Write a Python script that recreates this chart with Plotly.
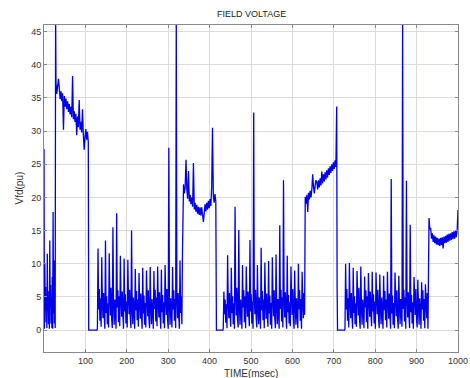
import numpy as np
import plotly.graph_objects as go

# ---- data (time in msec, Vfd in pu) ----
# each segment: start time, sample interval, values
burst_a_start, burst_a_step = 0.0, 1.0
burst_a = [27.3, 0.2, 10.1, 3.0, 6.5, 1.2, 5.0, 0.3, 11.5, 2.8, 5.9, 0.9, 4.4, 0.2,
           13.5, 3.5, 6.8, 1.0, 4.9, 0.3, 8.0, 0.2, 17.8, 2.5, 10.5, 1.0, 6.2, 0.3]

spike_a_t = [28.0]
spike_a_v = [48.0]

ramp_a_start, ramp_a_step = 29.0, 2.0
ramp_a = [37.2, 35.6, 36.8, 37.9, 36.4, 34.8, 36.0, 34.5, 35.7, 30.2,
          35.3, 33.7, 34.9, 33.3, 34.5, 32.9, 34.1, 32.5, 33.7, 32.1,
          38.3, 31.8, 33.0, 31.4, 32.6, 29.4, 32.2, 30.6, 34.7, 30.2,
          31.4, 29.8, 33.3, 29.5, 27.2, 29.1, 30.3, 28.7, 29.9, 28.3]

gap_1_t = [108.0, 128.0]
gap_1_v = [0.0, 0.0]

burst_b_start, burst_b_step = 129.0, 1.5
burst_b = [0.3, 12.3, 3.1, 6.2, 1.4, 4.8,   0.5, 11.0, 4.5, 1.8, 5.6, 2.3,
           0.2, 13.5, 2.6, 5.1, 0.9, 4.0,   0.4, 11.6, 5.3, 2.2, 6.4, 1.6,
           0.3, 15.5, 3.8, 0.8, 4.6, 2.9,   0.2, 17.6, 3.4, 6.0, 1.2, 5.1,
           0.6, 11.2, 4.9, 2.0, 5.8, 2.5,   0.2, 10.8, 2.8, 5.4, 1.0, 4.3,
           0.4, 10.6, 5.0, 2.4, 6.1, 1.8,   0.3, 15.0, 3.6, 0.9, 4.9, 2.7,
           0.2, 9.2, 3.0, 5.9, 1.5, 4.6,    0.5, 8.6, 4.4, 1.7, 5.5, 2.2,
           0.2, 9.4, 2.5, 5.2, 0.8, 4.1,    0.4, 9.0, 5.1, 2.1, 6.0, 1.7,
           0.3, 9.5, 3.7, 0.9, 4.7, 2.8,    0.2, 8.9, 3.2, 6.1, 1.3, 4.9,
           0.6, 9.6, 4.6, 1.9, 5.7, 2.4,    0.2, 9.1, 2.7, 5.3, 1.0, 4.2,
           0.3, 9.8, 5.2, 2.3, 6.2, 1.6,    0.2, 27.5, 3.9, 0.8, 4.8, 2.9,
           0.4, 9.5, 3.1, 6.0, 1.4, 4.7,    0.3, 47.0, 4.5, 1.8, 5.6, 2.3,
           0.2, 10.5, 2.6, 5.1, 0.9, 11.8]

ramp_b_start, ramp_b_step = 337.0, 2.0
ramp_b = [22.0, 20.6, 21.6, 25.7, 21.2, 19.8, 24.0, 19.4, 20.4, 19.0,
          20.0, 18.6, 25.2, 18.2, 19.2, 17.85, 18.9, 17.55, 18.6, 17.35,
          18.5, 17.25, 18.5, 17.4, 16.3, 17.6, 18.95, 17.9, 19.2, 18.15,
          19.5, 18.4, 19.75, 18.7, 21.5, 30.5, 20.3, 19.2, 20.5, 19.4]

gap_2_t = [416.5, 432.0]
gap_2_v = [0.0, 0.0]

burst_c_start, burst_c_step = 433.0, 1.5
burst_c = [0.2, 5.8, 2.4, 4.6, 1.1, 3.9,    0.3, 11.3, 4.5, 1.8, 5.6, 2.3,
           0.5, 9.4, 2.6, 5.1, 0.9, 4.0,    0.2, 18.6, 5.3, 2.2, 6.4, 1.6,
           0.4, 15.1, 3.8, 0.8, 4.6, 2.9,   0.2, 9.8, 3.4, 6.0, 1.2, 5.1,
           0.3, 9.6, 4.9, 2.0, 5.8, 2.5,    0.6, 13.6, 2.8, 5.4, 1.0, 4.3,
           0.2, 32.8, 5.0, 2.4, 6.1, 1.8,   0.4, 9.8, 3.6, 0.9, 4.9, 2.7,
           0.2, 12.4, 3.0, 5.9, 1.5, 4.6,   0.3, 10.2, 4.4, 1.7, 5.5, 2.2,
           0.5, 10.4, 2.5, 5.2, 0.8, 4.1,   0.2, 11.0, 5.1, 2.1, 6.0, 1.7,
           0.3, 11.4, 3.7, 0.9, 4.7, 2.8,   0.2, 15.8, 3.2, 6.1, 1.3, 4.9,
           0.4, 22.6, 4.6, 1.9, 5.7, 2.4,   0.2, 11.2, 2.7, 5.3, 1.0, 4.2,
           0.6, 9.6, 5.2, 2.3, 6.2, 1.6,    0.2, 9.0, 3.9, 0.8, 4.8, 2.9,
           0.3, 10.0, 3.1, 6.0, 1.4, 4.7,   0.2, 8.8, 4.5, 1.8, 5.6, 2.3]

ramp_c_start, ramp_c_step = 631.0, 2.0
ramp_c = [20.1, 19.05, 20.4, 17.8, 20.7, 19.7, 21.0, 20.0, 21.3, 23.5,
          21.6, 20.6, 21.9, 22.6, 22.3, 21.2, 22.6, 21.5, 22.9, 21.8,
          23.9, 22.1, 23.5, 22.4, 23.8, 22.7, 24.1, 23.0, 24.4, 23.4,
          24.7, 23.7, 25.0, 24.0, 25.3, 24.3, 25.6, 24.6, 33.7]

gap_3_t = [708.0, 709.0, 726.0]
gap_3_v = [6.4, 0.0, 0.0]

burst_d_start, burst_d_step = 727.0, 1.53
burst_d = [0.2, 10.0, 3.1, 6.2, 1.4, 4.8,   0.4, 10.1, 4.5, 1.8, 5.6, 2.3,
           0.2, 9.4, 2.6, 5.1, 0.9, 4.0,    0.5, 8.9, 5.3, 2.2, 6.4, 1.6,
           0.2, 9.6, 3.8, 0.8, 4.6, 2.9,    0.3, 8.1, 3.4, 6.0, 1.2, 5.1,
           0.2, 8.6, 4.9, 2.0, 5.8, 2.5,    0.6, 8.8, 2.8, 5.4, 1.0, 4.3,
           0.2, 8.7, 5.0, 2.4, 6.1, 1.8,    0.3, 8.4, 3.6, 0.9, 4.9, 2.7,
           0.2, 8.2, 3.0, 5.9, 1.5, 4.6,    0.4, 8.8, 4.4, 1.7, 5.5, 2.2,
           0.2, 22.8, 2.5, 5.2, 0.8, 4.1,   0.3, 8.7, 5.1, 2.1, 6.0, 1.7,
           0.2, 8.2, 3.7, 0.9, 4.7, 2.8,    0.5, 47.0, 3.2, 6.1, 1.3, 4.9,
           0.2, 22.5, 4.6, 1.9, 5.7, 2.4,   0.3, 15.9, 2.7, 5.3, 1.0, 4.2,
           0.2, 8.0, 5.2, 2.3, 6.2, 1.6,    0.4, 7.6, 3.9, 0.8, 4.8, 2.9,
           0.2, 7.2, 3.1, 6.0, 1.4, 4.7,    0.3, 6.9, 4.5, 1.8, 5.6, 0.2]

ramp_d_start, ramp_d_step = 930.0, 2.0
ramp_d = [16.9, 15.2, 15.4, 13.8, 14.6, 13.3, 14.3, 13.1, 14.1, 12.9,
          13.9, 12.8, 13.8, 12.7, 13.9, 12.8, 14.0, 12.3, 14.1, 13.1,
          14.2, 13.2, 14.4, 13.3, 14.5, 13.5, 14.6, 13.6, 14.8, 13.7,
          14.9, 13.8, 15.0, 14.0, 15.1, 18.1]

x_ticks = [100, 200, 300, 400, 500, 600, 700, 800, 900, 1000]
y_ticks = [0, 5, 10, 15, 20, 25, 30, 35, 40, 45]


def seg(start, step, vals):
    return list(start + step * np.arange(len(vals))), list(vals)


pieces = [
    seg(burst_a_start, burst_a_step, burst_a),
    (spike_a_t, spike_a_v),
    seg(ramp_a_start, ramp_a_step, ramp_a),
    (gap_1_t, gap_1_v),
    seg(burst_b_start, burst_b_step, burst_b),
    seg(ramp_b_start, ramp_b_step, ramp_b),
    (gap_2_t, gap_2_v),
    seg(burst_c_start, burst_c_step, burst_c),
    seg(ramp_c_start, ramp_c_step, ramp_c),
    (gap_3_t, gap_3_v),
    seg(burst_d_start, burst_d_step, burst_d),
    seg(ramp_d_start, ramp_d_step, ramp_d),
]
t_all, v_all = [], []
for tt, vv in pieces:
    t_all += list(tt)
    v_all += list(vv)

fig = go.Figure(go.Scatter(x=t_all, y=v_all, mode="lines",
                           line=dict(color="rgb(0,0,235)", width=1.3, simplify=False),
                           hoverinfo="skip"))

axis_common = dict(showgrid=True, gridcolor="#dcdcdc", gridwidth=1,
                   showline=True, linecolor="#8a8a8a", linewidth=1, mirror="ticks",
                   ticks="inside", ticklen=3, tickcolor="#8a8a8a",
                   zeroline=False,
                   tickfont=dict(family="Liberation Sans, Arial", size=9, color="#333333"))

fig.update_xaxes(range=[0, 1000], tickvals=x_ticks, **axis_common)
fig.update_yaxes(range=[-3.3, 46], tickvals=y_ticks, **axis_common)

fig.update_layout(
    width=470, height=378,
    margin=dict(l=44, r=12, t=25, b=26, autoexpand=False),
    paper_bgcolor="white", plot_bgcolor="white",
    showlegend=False,
    annotations=[
        dict(text="FIELD VOLTAGE", xref="paper", yref="paper", x=0.5, y=1.0,
             yshift=11, showarrow=False, xanchor="center", yanchor="middle",
             font=dict(family="Liberation Sans, Arial", size=9, color="#222222")),
        dict(text="TIME(msec)", xref="paper", yref="paper", x=0.5, y=0.0,
             yshift=-21, showarrow=False, xanchor="center", yanchor="middle",
             font=dict(family="Liberation Sans, Arial", size=10, color="#333333")),
        dict(text="Vfd(pu)", xref="paper", yref="paper", x=0.0, y=0.5,
             xshift=-25, showarrow=False, textangle=-90, xanchor="center", yanchor="middle",
             font=dict(family="Liberation Sans, Arial", size=10, color="#333333")),
    ],
)

fig.write_html("out.html")
